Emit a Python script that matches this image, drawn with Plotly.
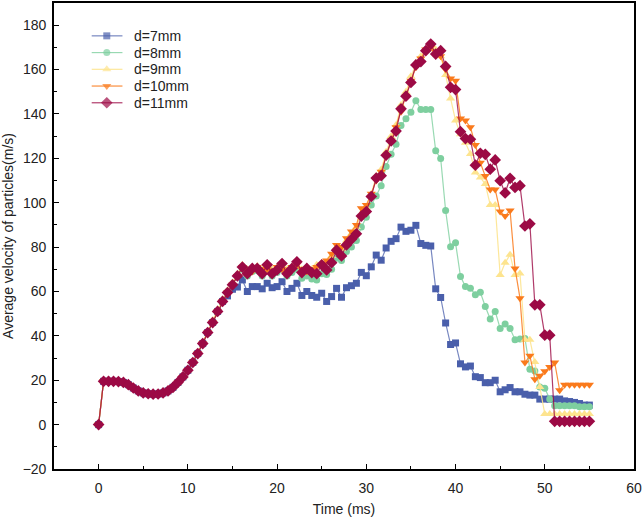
import plotly.graph_objects as go

# Time axis (ms): 100 samples from 0 to 55 ms
time_ms = [round(k * 55 / 99, 3) for k in range(100)]

d7 = [0, 19.5, 19.5, 19.5, 19.4, 19.0, 18.0, 16.5, 15.2, 14.3,
      13.9, 13.7, 13.8, 14.3, 15.2, 16.8, 19.0, 21.5, 24.5, 28.0,
      32.0, 36.5, 41.5, 46.0, 51.0, 55.5, 58.0, 61.0, 62.0, 65.2,
      60.0, 62.2, 62.2, 61.2, 63.7, 61.7, 62.2, 64.4, 60.0, 61.4,
      63.7, 58.2, 60.0, 58.2, 57.4, 59.2, 55.5, 57.7, 61.4, 57.4,
      61.7, 62.6, 63.7, 68.6, 67.1, 71.1, 76.4, 74.1, 79.6, 82.6,
      83.8, 89.0, 87.1, 87.6, 89.8, 81.6, 80.8, 80.5, 61.2, 57.3,
      45.8, 36.1, 36.8, 27.4, 26.0, 26.4, 21.6, 21.2, 18.9, 18.9,
      20.0, 14.8, 15.7, 16.7, 14.8, 14.8, 13.7, 13.3, 13.3, 11.5,
      11.5, 11.5, 11.5, 11.5, 10.7, 10.4, 10.0, 9.5, 8.8, 8.8]

d8 = [0, 19.5, 19.5, 19.5, 19.4, 19.0, 18.0, 16.5, 15.2, 14.3,
      13.9, 13.7, 13.8, 14.3, 15.2, 16.8, 19.0, 21.5, 24.5, 28.0,
      32.0, 36.5, 41.5, 46.0, 51.0, 55.5, 59.5, 63.0, 67.0, 70.0,
      67.0, 69.0, 69.5, 67.0, 70.0, 67.0, 68.5, 70.0, 67.0, 68.5,
      70.0, 66.0, 67.0, 65.6, 65.2, 68.0, 67.7, 70.0, 75.0, 74.0,
      78.0, 80.0, 83.0, 89.0, 93.5, 99.0, 103.0, 107.7, 116.3, 121.8,
      126.3, 134.8, 137.8, 140.8, 146.0, 142.0, 142.0, 142.0, 123.4, 119.9,
      96.5, 80.1, 82.0, 66.7, 62.2, 61.4, 58.5, 59.6, 53.2, 47.6,
      51.0, 43.3, 45.3, 43.3, 38.3, 38.6, 38.8, 24.9, 24.2, 17.0,
      16.4, 11.5, 8.5, 8.5, 8.5, 8.5, 8.5, 8.0, 8.0, 8.0]

d9 = [0, 19.5, 19.5, 19.5, 19.4, 19.0, 18.0, 16.5, 15.2, 14.3,
      13.9, 13.7, 13.8, 14.3, 15.2, 16.8, 19.0, 21.5, 24.5, 28.0,
      32.5, 37.0, 42.0, 47.0, 52.0, 56.5, 60.5, 64.0, 68.0, 72.0,
      70.0, 71.0, 71.5, 70.0, 72.0, 70.0, 71.0, 72.0, 70.0, 71.0,
      73.5, 70.0, 71.0, 70.0, 72.0, 73.0, 73.0, 76.0, 80.0, 79.0,
      83.0, 86.0, 89.0, 95.0, 98.0, 104.0, 112.0, 115.0, 123.0, 130.0,
      135.0, 144.0, 150.0, 157.0, 163.0, 166.0, 169.0, 171.0, 169.0, 166.0,
      157.6, 147.0, 137.0, 130.8, 127.0, 122.0, 113.6, 111.4, 108.4, 99.0,
      99.0, 67.4, 72.9, 76.6, 67.4, 68.1, 38.3, 38.3, 28.2, 17.0,
      4.8, 4.8, 4.8, 4.8, 4.8, 4.8, 4.8, 4.8, 4.8, 4.8]

d10 = [0, 19.5, 19.5, 19.5, 19.4, 19.0, 18.0, 16.5, 15.2, 14.3,
       13.9, 13.7, 13.8, 14.3, 15.2, 16.8, 19.0, 21.5, 24.5, 28.0,
       32.0, 36.5, 41.5, 46.0, 51.0, 55.5, 59.5, 63.0, 67.0, 71.0,
       70.0, 69.0, 71.0, 70.0, 70.0, 69.0, 71.0, 70.0, 69.0, 71.0,
       72.0, 70.0, 69.0, 70.0, 71.0, 72.0, 74.0, 77.0, 81.0, 80.0,
       84.0, 87.0, 90.0, 97.5, 99.0, 104.0, 110.0, 114.0, 121.0, 128.0,
       134.0, 141.0, 148.0, 155.0, 161.0, 165.0, 169.0, 170.0, 168.0, 166.0,
       160.0, 156.0, 155.0, 138.0, 137.0, 134.0, 126.0, 118.0, 112.0, 106.0,
       106.0, 96.0, 94.0, 96.5, 70.4, 57.0, 28.0, 31.0, 20.5, 22.0,
       24.0, 26.0, 28.0, 15.5, 18.0, 18.0, 18.0, 18.0, 18.0, 18.0]

d11 = [0, 19.5, 19.5, 19.5, 19.4, 19.0, 18.0, 16.5, 15.2, 14.3,
       13.9, 13.7, 13.8, 14.3, 15.2, 16.8, 19.0, 21.5, 24.5, 28.0,
       32.0, 36.5, 41.5, 46.0, 51.0, 55.5, 59.5, 63.0, 67.0, 71.0,
       68.0, 70.4, 70.4, 68.0, 72.0, 68.0, 69.7, 72.6, 68.0, 70.4,
       73.4, 68.5, 70.4, 68.5, 68.0, 72.0, 69.7, 73.0, 78.6, 76.0,
       81.0, 83.5, 86.0, 94.0, 96.0, 102.8, 111.1, 112.2, 121.4, 127.8,
       132.3, 142.3, 148.0, 154.2, 162.1, 163.6, 168.5, 171.5, 167.0, 168.5,
       161.4, 152.0, 151.0, 132.0, 128.9, 128.6, 116.9, 122.3, 121.8, 115.1,
       119.3, 109.9, 104.4, 111.0, 106.9, 107.7, 89.5, 90.5, 54.0, 54.0,
       40.3, 40.3, 1.5, 1.5, 1.5, 1.5, 1.5, 1.5, 1.5, 1.5]

series_names = ["d=7mm", "d=8mm", "d=9mm", "d=10mm", "d=11mm"]
series_values = [d7, d8, d9, d10, d11]
marker_colors = ["#4a5fab", "#7ecf9f", "#fde48f", "#fa7a1c", "#9c0a45"]
line_colors = ["rgba(74,95,171,0.75)", "rgba(126,207,159,0.8)", "rgba(253,228,143,0.9)",
               "rgba(250,122,28,0.85)", "rgba(156,10,69,0.8)"]
symbols = ["square", "circle", "triangle-up", "triangle-down", "diamond"]
sizes = [7, 7, 8, 8, 9]

fig = go.Figure()
for name, vals, mc, lc, sym, sz in zip(series_names, series_values, marker_colors,
                                       line_colors, symbols, sizes):
    fig.add_trace(go.Scatter(
        x=time_ms, y=vals, name=name, mode="lines+markers",
        line=dict(color=lc, width=1.2),
        marker=dict(symbol=sym, size=sz, color=mc, line=dict(width=0)),
        showlegend=False,
    ))

# Compact legend drawn on an overlay axis (fractions of the plot area)
leg_x0, leg_xm, leg_x1, leg_text_x = 0.065, 0.091, 0.118, 0.134
leg_top, leg_step = 0.9295, 0.0359
annotations = []
for i, (name, mc, lc, sym, sz) in enumerate(zip(series_names, marker_colors, line_colors,
                                                 symbols, sizes)):
    yy = leg_top - i * leg_step
    fig.add_trace(go.Scatter(
        x=[leg_x0, leg_xm, leg_x1], y=[yy, yy, yy], xaxis="x2", yaxis="y2",
        mode="lines+markers", line=dict(color=lc, width=1.2),
        marker=dict(symbol=sym, size=[0, sz, 0], color=mc, line=dict(width=0)),
        showlegend=False, hoverinfo="skip",
    ))
    annotations.append(dict(x=leg_text_x, y=yy, xref="x2", yref="y2", text=name,
                            showarrow=False, xanchor="left", yanchor="middle",
                            font=dict(size=14, color="#222")))

font_family = "Liberation Sans, Arial, sans-serif"
fig.update_layout(
    width=643, height=518,
    margin=dict(l=54, r=9, t=1, b=49),
    paper_bgcolor="white", plot_bgcolor="white",
    font=dict(family=font_family, size=14, color="#222"),
    showlegend=False,
    annotations=annotations,
    xaxis=dict(
        title=dict(text="Time (ms)", font=dict(size=14), standoff=10),
        range=[-5, 60], tick0=0, dtick=10,
        ticks="inside", ticklen=5, tickwidth=1.2, tickcolor="black",
        minor=dict(ticks="inside", ticklen=3, dtick=5, tickcolor="black"),
        showline=True, linecolor="black", linewidth=1.6, mirror=True,
        showgrid=False, zeroline=False, tickfont=dict(size=14),
        ticklabelstandoff=5,
    ),
    yaxis=dict(
        title=dict(text="Average velocity of particles(m/s)", font=dict(size=14), standoff=6),
        range=[-20, 190], tick0=0, dtick=20,
        ticks="inside", ticklen=5, tickwidth=1.2, tickcolor="black",
        minor=dict(ticks="inside", ticklen=3, dtick=10, tickcolor="black"),
        showline=True, linecolor="black", linewidth=1.6, mirror=True,
        showgrid=False, zeroline=False, tickfont=dict(size=14),
        ticklabelstandoff=3,
    ),
    xaxis2=dict(domain=[0, 1], range=[0, 1], overlaying="x", visible=False, fixedrange=True),
    yaxis2=dict(domain=[0, 1], range=[0, 1], overlaying="y", visible=False, fixedrange=True),
)

fig.write_html("out.html")
